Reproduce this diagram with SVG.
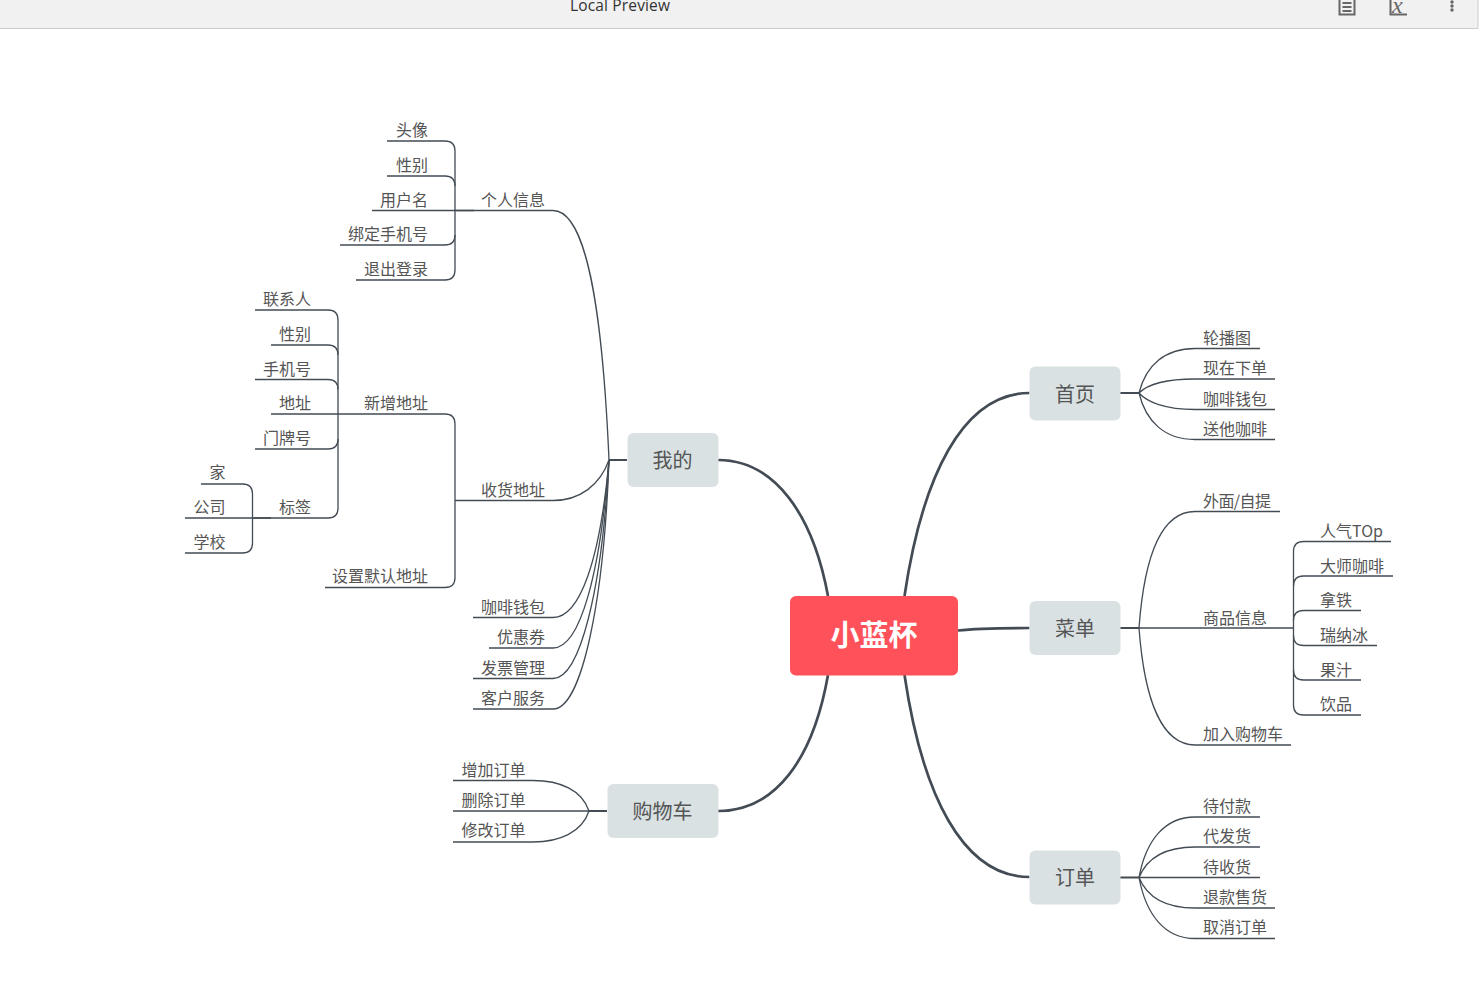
<svg xmlns="http://www.w3.org/2000/svg" width="1480" height="998" viewBox="0 0 1480 998">
<style>
text{font-family:"Noto Sans CJK SC","Noto Sans",sans-serif;fill:#555}
.l{font-size:16px}
.e{text-anchor:end}
.m{font-size:20px;text-anchor:middle}
.n{fill:#d9e1e3}
.c{fill:none;stroke:#434b54;stroke-width:1.3}
.t{fill:none;stroke:#434b54;stroke-width:2.7}
.i{fill:none;stroke:#666;stroke-width:2}
</style>
<rect width="1480" height="998" fill="#fff"/>
<g id="toolbar">
<rect x="0" y="0" width="1478" height="28" fill="#f1f1f1"/>
<path d="M0 28.500H1478V0" fill="none" stroke="#ccc" stroke-width="1"/>
<text x="570" y="11" textLength="100" style="font-family:'Open Sans',sans-serif;font-size:15.500px;fill:#333">Local Preview</text>
<path class="i" d="M1339.500 0V14.500H1354.500V0M1342.500 3H1351.500M1342.500 7H1351.500M1342.500 11H1351.500"/>
<path class="i" d="M1390.500 0V14.500H1407"/>
<text x="1392" y="13" style="font-family:'Liberation Serif',serif;font-style:italic;font-size:24px;fill:#666">x</text>
<circle cx="1452" cy="2" r="1.700" fill="#666"/><circle cx="1452" cy="6" r="1.700" fill="#666"/>
<circle cx="1452" cy="10" r="1.700" fill="#666"/>
</g>
<g id="connectors">
<path class="t" d="M828 596C813 515 775 460 718 460"/>
<path class="t" d="M904.500 596C922 478 962 393 1029.500 393"/>
<path class="t" d="M958 630.500C975 628.500 1000 628 1029.500 628"/>
<path class="t" d="M828 675C813 760 775 811 718 811"/>
<path class="t" d="M904.500 675C922 793 962 877 1029.500 877"/>
<path class="c" style="stroke-width:2" d="M609 460H627M589 811H607M1120 393H1139M1120 628H1139M1120 877.500H1139"/>
<path class="c" d="M609 460C602 300 585 210.500 553 210.500H455"/>
<path class="c" d="M609 460C600 485 580 500.500 553 500.500H455"/>
<path class="c" d="M609 460C600 560 580 617.500 553 617.500H473"/>
<path class="c" d="M609 460C600 575 580 648 553 648H489"/>
<path class="c" d="M609 460C602 590 580 678.500 553 678.500H473"/>
<path class="c" d="M609 460C604 600 582 709 553 709H473"/>
<path class="c" d="M387 141H445Q455 141 455 151V270Q455 280 445 280H356"/>
<path class="c" d="M387 176H445Q455 176 455 186M372 210.500H474M340 245H445Q455 245 455 235"/>
<path class="c" d="M255 310H328Q338 310 338 320V508Q338 518 328 518H252.500"/>
<path class="c" d="M271 345H328Q338 345 338 355M255 379.500H328Q338 379.500 338 389.500M255 449H328Q338 449 338 439"/>
<path class="c" d="M271 414H445Q455 414 455 424V577.500Q455 587.500 445 587.500H325"/>
<path class="c" d="M201 484H242.500Q252.500 484 252.500 494V543Q252.500 553 242.500 553H185M185 518H271"/>
<path class="c" d="M589 811C582 790 560 780.500 533 780.500H453M589 811H453M589 811C582 832 560 842 533 842H453"/>
<path class="c" d="M1139 393C1146 365 1165 348.500 1195 348.500H1260M1139 393C1147 385 1165 379 1195 379H1275M1139 393C1147 402 1165 409.500 1195 409.500H1275M1139 393C1146 422 1165 439.500 1195 439.500H1275"/>
<path class="c" d="M1139 628C1144 560 1160 511.500 1195 511.500H1280M1139 628H1293.500M1139 628C1144 695 1160 745 1195 745H1291"/>
<path class="c" d="M1391 541.500H1303.500Q1293.500 541.500 1293.500 551.500V705Q1293.500 715 1303.500 715H1361"/>
<path class="c" d="M1393 576H1303.500Q1293.500 576 1293.500 586M1361 610.500H1303.500Q1293.500 610.500 1293.500 620.500M1377 645.500H1303.500Q1293.500 645.500 1293.500 635.500M1361 680H1303.500Q1293.500 680 1293.500 670"/>
<path class="c" d="M1139 877.500C1146 840 1165 817 1195 817H1260M1139 877.500C1147 858 1165 847 1195 847H1260M1139 877.500H1260M1139 877.500C1147 897 1165 908 1195 908H1275M1139 877.500C1146 915 1165 938.500 1195 938.500H1275"/>
</g>
<g id="root"><rect x="790" y="596" width="168" height="79.500" rx="6" fill="#ff5159"/><text x="874" y="646" text-anchor="middle" style="fill:#fff;font-size:29px;font-weight:700">小蓝杯</text></g>
<g id="wode"><rect class="n" x="627.500" y="433" width="91" height="54" rx="6"/><text class="m" x="672.500" y="468">我的</text></g>
<g id="gouwuche"><rect class="n" x="607.500" y="784" width="111" height="54" rx="6"/><text class="m" x="662.500" y="819">购物车</text></g>
<g id="shouye"><rect class="n" x="1029.500" y="366.500" width="91" height="54" rx="6"/><text class="m" x="1075" y="402">首页</text></g>
<g id="caidan"><rect class="n" x="1029.500" y="601" width="91" height="54" rx="6"/><text class="m" x="1075" y="636">菜单</text></g>
<g id="dingdan"><rect class="n" x="1029.500" y="850.500" width="91" height="54" rx="6"/><text class="m" x="1075" y="885">订单</text></g>
<g id="labels-left">
<text class="l e" x="428" y="136">头像</text>
<text class="l e" x="428" y="171">性别</text>
<text class="l e" x="428" y="206">用户名</text>
<text class="l e" x="428" y="240">绑定手机号</text>
<text class="l e" x="428" y="275">退出登录</text>
<text class="l e" x="545" y="206">个人信息</text>
<text class="l e" x="311" y="305">联系人</text>
<text class="l e" x="311" y="340">性别</text>
<text class="l e" x="311" y="374.500">手机号</text>
<text class="l e" x="311" y="409">地址</text>
<text class="l e" x="311" y="444">门牌号</text>
<text class="l e" x="311" y="513">标签</text>
<text class="l e" x="225.500" y="478">家</text>
<text class="l e" x="225.500" y="513">公司</text>
<text class="l e" x="225.500" y="548">学校</text>
<text class="l e" x="428" y="409">新增地址</text>
<text class="l e" x="428" y="582">设置默认地址</text>
<text class="l e" x="545" y="496">收货地址</text>
<text class="l e" x="545" y="613">咖啡钱包</text>
<text class="l e" x="545" y="643">优惠券</text>
<text class="l e" x="545" y="674">发票管理</text>
<text class="l e" x="545" y="704">客户服务</text>
<text class="l" x="461.500" y="775.500">增加订单</text>
<text class="l" x="461.500" y="806">删除订单</text>
<text class="l" x="461.500" y="836">修改订单</text>
</g>
<g id="labels-right">
<text class="l" x="1203" y="344">轮播图</text>
<text class="l" x="1203" y="374">现在下单</text>
<text class="l" x="1203" y="404.500">咖啡钱包</text>
<text class="l" x="1203" y="435">送他咖啡</text>
<text class="l" x="1203" y="506.500" textLength="68">外面/自提</text>
<text class="l" x="1203" y="623.500">商品信息</text>
<text class="l" x="1203" y="740">加入购物车</text>
<text class="l" x="1320" y="536.500">人气TOp</text>
<text class="l" x="1320" y="571.500">大师咖啡</text>
<text class="l" x="1320" y="606">拿铁</text>
<text class="l" x="1320" y="640.500">瑞纳冰</text>
<text class="l" x="1320" y="675.500">果汁</text>
<text class="l" x="1320" y="710">饮品</text>
<text class="l" x="1203" y="812">待付款</text>
<text class="l" x="1203" y="842">代发货</text>
<text class="l" x="1203" y="873">待收货</text>
<text class="l" x="1203" y="903">退款售货</text>
<text class="l" x="1203" y="933">取消订单</text>
</g>
</svg>
